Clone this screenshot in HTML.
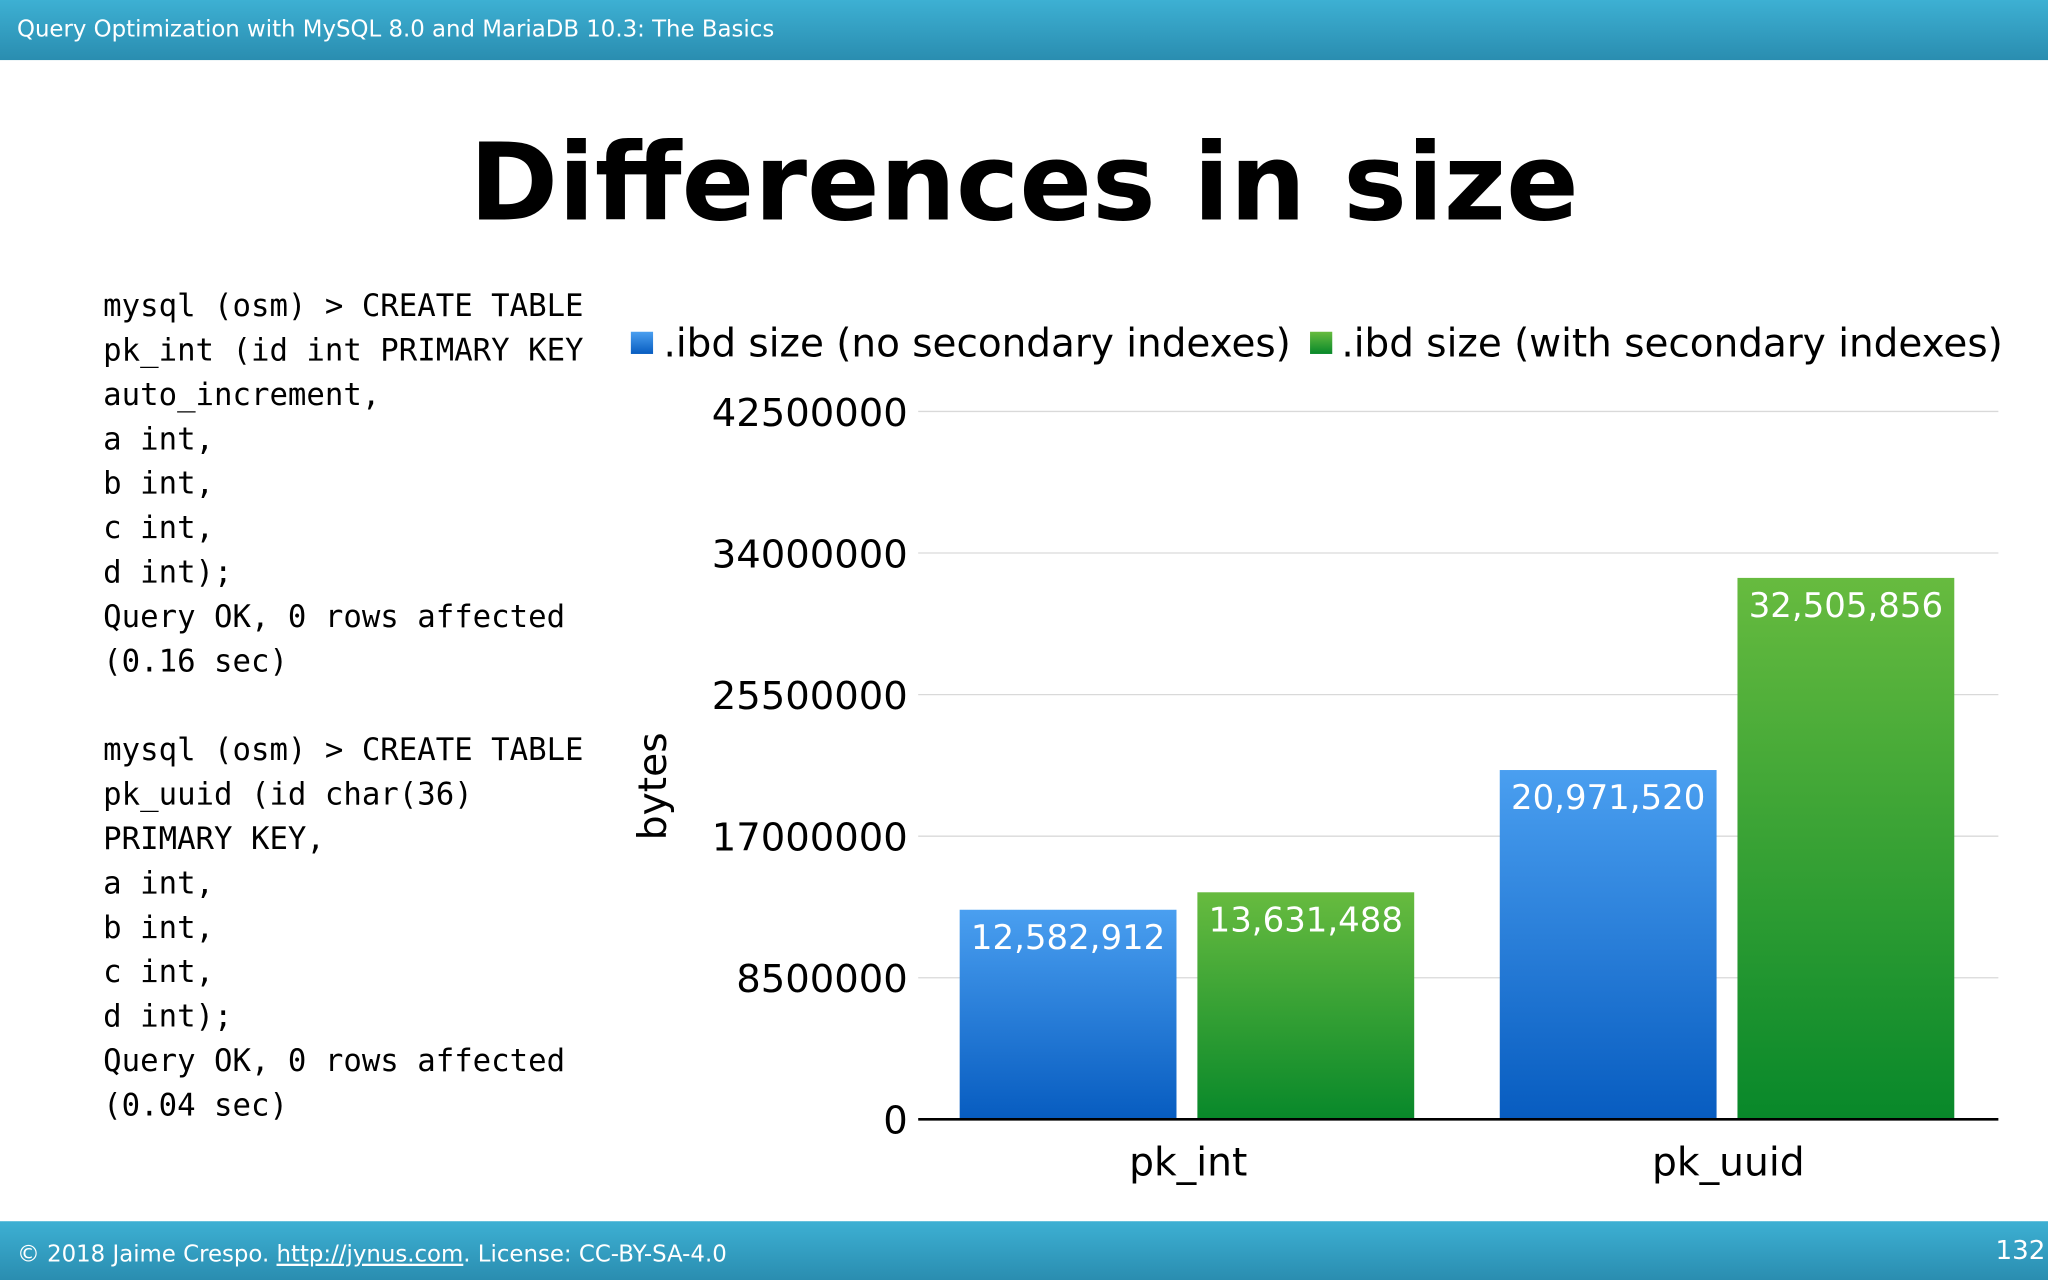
<!DOCTYPE html>
<html><head><meta charset="utf-8">
<style>
html,body{margin:0;padding:0;background:#fff;}
svg{display:block;}
text{font-family:"DejaVu Sans","Liberation Sans",sans-serif;}
.mono{font-family:"DejaVu Sans Mono","Liberation Mono",monospace;}
</style></head>
<body>
<svg id="slide" width="2048" height="1280" viewBox="0 0 1568 980" xmlns="http://www.w3.org/2000/svg">
<defs>
<linearGradient id="hdr" x1="0" y1="0" x2="0" y2="1"><stop offset="0" stop-color="#3db0d3"/><stop offset="1" stop-color="#2a8db0"/></linearGradient>
<linearGradient id="gb" x1="0" y1="0" x2="0" y2="1"><stop offset="0" stop-color="#4a9ff0"/><stop offset="1" stop-color="#075cc0"/></linearGradient>
<linearGradient id="gg" x1="0" y1="0" x2="0" y2="1"><stop offset="0" stop-color="#67bb3f"/><stop offset="1" stop-color="#08882a"/></linearGradient>
</defs>
<rect x="0" y="0" width="1568" height="46" fill="url(#hdr)"/>
<text x="13" y="28" font-size="17.5" fill="#fff">Query Optimization with MySQL 8.0 and MariaDB 10.3: The Basics</text>
<text x="784" y="168" font-size="82" font-weight="bold" text-anchor="middle" fill="#000">Differences in size</text>
<g class="mono" font-size="23.5" fill="#000">
<text class="mono" x="79" y="242">mysql (osm) &gt; CREATE TABLE</text>
<text class="mono" x="79" y="276">pk_int (id int PRIMARY KEY</text>
<text class="mono" x="79" y="310">auto_increment,</text>
<text class="mono" x="79" y="344">a int,</text>
<text class="mono" x="79" y="378">b int,</text>
<text class="mono" x="79" y="412">c int,</text>
<text class="mono" x="79" y="446">d int);</text>
<text class="mono" x="79" y="480">Query OK, 0 rows affected</text>
<text class="mono" x="79" y="514">(0.16 sec)</text>
<text class="mono" x="79" y="582">mysql (osm) &gt; CREATE TABLE</text>
<text class="mono" x="79" y="616">pk_uuid (id char(36)</text>
<text class="mono" x="79" y="650">PRIMARY KEY,</text>
<text class="mono" x="79" y="684">a int,</text>
<text class="mono" x="79" y="718">b int,</text>
<text class="mono" x="79" y="752">c int,</text>
<text class="mono" x="79" y="786">d int);</text>
<text class="mono" x="79" y="820">Query OK, 0 rows affected</text>
<text class="mono" x="79" y="854">(0.04 sec)</text>
</g>
<rect x="483" y="254" width="17" height="17" fill="url(#gb)"/>
<text x="508" y="273" font-size="29.8" fill="#000">.ibd size (no secondary indexes)</text>
<rect x="1003" y="254" width="17" height="17" fill="url(#gg)"/>
<text x="1027" y="273" font-size="29.8" fill="#000">.ibd size (with secondary indexes)</text>
<text transform="translate(510,602) rotate(-90)" font-size="30" text-anchor="middle" fill="#000">bytes</text>
<g id="chart"></g>
<rect x="0" y="935" width="1568" height="45" fill="url(#hdr)"/>
<text x="13" y="966" font-size="17.5" fill="#fff">© 2018 Jaime Crespo. <tspan text-decoration="underline">http://jynus.com</tspan>. License: CC-BY-SA-4.0</text>
<text x="1566" y="964" font-size="20" fill="#fff" text-anchor="end">132</text>
</svg>
<script>
const categories = ["pk_int", "pk_uuid"];
const seriesNoSecondary = [12582912, 20971520];
const seriesWithSecondary = [13631488, 32505856];
const yTicks = [0, 8500000, 17000000, 25500000, 34000000, 42500000];
const yMax = 42500000;

const NS = "http://www.w3.org/2000/svg";
const g = document.getElementById("chart");
const X0 = 703, X1 = 1530, Y0 = 857, YT = 315;
function yScale(v){ return Y0 - (v / yMax) * (Y0 - YT); }
function bandCenter(i){ const w = (X1 - X0) / categories.length; return X0 + w * (i + 0.5); }
function fmt(v){ return v.toLocaleString("en-US"); }
function mk(tag, attrs){ const e = document.createElementNS(NS, tag); for (const k in attrs) e.setAttribute(k, attrs[k]); g.appendChild(e); return e; }

yTicks.forEach((t, i) => {
  const y = yScale(t);
  if (t !== 0) {
    const l = mk("line", {x1: X0, x2: X1, y1: y, y2: y, stroke: "#d9d9d9", "stroke-width": 1});
    
    
  }
  const tx = mk("text", {x: 695, y: y + 11, "font-size": 29.5, "text-anchor": "end", fill: "#000"});
  tx.textContent = String(t);
  
  
});

const series = [
  {vals: seriesNoSecondary, fill: "url(#gb)", off0: -175, off1: -9, name: "bar-no-secondary"},
  {vals: seriesWithSecondary, fill: "url(#gg)", off0: 7, off1: 173, name: "bar-with-secondary"}
];
categories.forEach((c, i) => {
  const cx = bandCenter(i);
  series.forEach(s => {
    const v = s.vals[i];
    const y = yScale(v);
    const r = mk("rect", {x: cx + s.off0, y: y, width: s.off1 - s.off0, height: Y0 - y, fill: s.fill});
    
    
    const lb = mk("text", {x: cx + (s.off0 + s.off1) / 2, y: y + 30, "font-size": 26, "text-anchor": "middle", fill: "#fff"});
    lb.textContent = fmt(v);
    
    
  });
  const xl = mk("text", {x: cx, y: 900, "font-size": 30, "text-anchor": "middle", fill: "#000"});
  xl.textContent = c;
  
  
});
const base = mk("line", {x1: X0, x2: X1, y1: Y0, y2: Y0, stroke: "#000", "stroke-width": 2});


</script>
</body></html>
